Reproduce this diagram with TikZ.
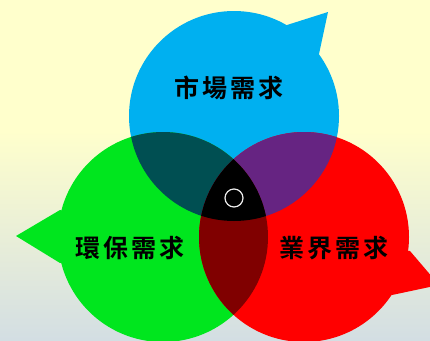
\documentclass[tikz,border=0pt]{standalone}
\usepackage{fontspec}
\newfontfamily\cjk{Noto Sans CJK TC}[BoldFont={* Bold}]
\definecolor{bgtop}{HTML}{FFFFCC}
\definecolor{bgbot}{HTML}{D3DEE3}
\definecolor{cblue}{HTML}{00B0F0}
\definecolor{cgreen}{HTML}{00E61E}
\definecolor{cred}{HTML}{FF0000}
\definecolor{cteal}{HTML}{004F52}
\definecolor{cpurple}{HTML}{662482}
\definecolor{cdred}{HTML}{800000}
\newcommand{\gapch}{\hspace{3pt}}
\begin{document}
\begin{tikzpicture}[x=1pt,y=-1pt,
  lbl/.style={font=\cjk\bfseries\fontsize{25}{29}\selectfont, text=black, inner sep=0pt},
  hole/.style={draw=white!85!gray, line width=1.2pt}]
\useasboundingbox (0,0) rectangle (430,340);
\fill[bgtop] (0,0) rectangle (430,131);
\shade[top color=bgtop, bottom color=bgbot] (0,130) rectangle (430,340);
% centres
\coordinate (B) at (234,116);
\coordinate (G) at (163,237);
\coordinate (R) at (304,237);
\def\rr{105}
% blue bubble
\fill[cblue] (B) circle (\rr);
\fill[cblue] (287,25) -- (328,12) -- (319,54) -- (B) -- cycle;
% green bubble
\fill[cgreen] (G) circle (\rr);
\fill[cgreen] (60,210) -- (16,236) -- (60,263) -- (G) -- cycle;
% red bubble
\fill[cred] (R) circle (\rr);
\fill[cred] (410,251) -- (439,285) -- (392,295) -- (R) -- cycle;
% overlaps
\begin{scope}
  \clip (B) circle (\rr);
  \fill[cteal] (G) circle (\rr);
  \fill[cpurple] (R) circle (\rr);
\end{scope}
\begin{scope}
  \clip (G) circle (\rr);
  \fill[cdred] (R) circle (\rr);
\end{scope}
\begin{scope}
  \clip (B) circle (\rr);
  \clip (G) circle (\rr);
  \fill[black] (R) circle (\rr);
\end{scope}
\node[hole, circle, minimum size=18pt, inner sep=0pt] (hub) at (234,198) {};
\node[lbl] (market) at (229,88) {市\gapch 場\gapch 需\gapch 求};
\node[lbl] (env) at (130,248) {環\gapch 保\gapch 需\gapch 求};
\node[lbl] (ind) at (334,248) {業\gapch 界\gapch 需\gapch 求};
\end{tikzpicture}
\end{document}
